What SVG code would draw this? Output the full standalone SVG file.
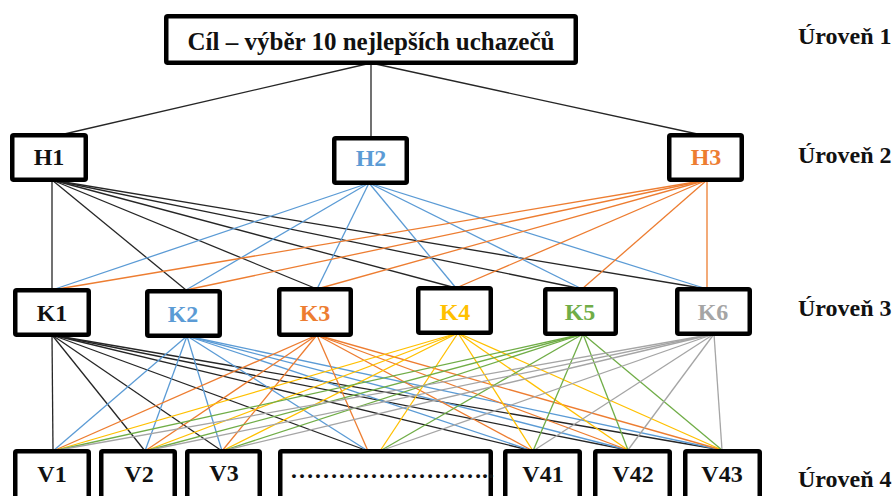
<svg xmlns="http://www.w3.org/2000/svg" width="896" height="496" viewBox="0 0 896 496">
  <style>
    .box { fill: #ffffff; stroke: #000000; stroke-width: 4.5; }
    text { font-family: 'Liberation Serif', 'Times New Roman', Times, serif; font-weight: 700; }
    .lbl { font-size: 24px; text-anchor: middle; }
    .ttl { font-size: 25px; text-anchor: middle; }
    .lvl { font-size: 24px; fill: #111111; }
    .c line { stroke-width: 1.3; fill: none; }
    .k { stroke: #262626; }
    .b { stroke: #5b9bd5; }
    .o { stroke: #ed7d31; }
    .y { stroke: #ffc000; }
    .g { stroke: #70ad47; }
    .s { stroke: #a5a5a5; }
  </style>
  <rect width="896" height="496" fill="#ffffff"/>

  <!-- connectors -->
  <g id="connectors" class="c">
    <!-- goal to criteria -->
    <g class="k">
      <line x1="371" y1="63" x2="60" y2="135"/>
      <line x1="371" y1="63" x2="371" y2="138"/>
      <line x1="371" y1="63" x2="702" y2="135"/>
    </g>
    <!-- H1 to K -->
    <g class="k">
      <line x1="52" y1="180" x2="52" y2="290"/>
      <line x1="52" y1="180" x2="186" y2="290"/>
      <line x1="52" y1="180" x2="317" y2="289"/>
      <line x1="52" y1="180" x2="456" y2="288"/>
      <line x1="52" y1="180" x2="582" y2="289"/>
      <line x1="52" y1="180" x2="707" y2="289"/>
    </g>
    <!-- H2 to K -->
    <g class="b">
      <line x1="369" y1="183" x2="52" y2="290"/>
      <line x1="369" y1="183" x2="186" y2="290"/>
      <line x1="369" y1="183" x2="317" y2="289"/>
      <line x1="369" y1="183" x2="456" y2="288"/>
      <line x1="369" y1="183" x2="582" y2="289"/>
      <line x1="369" y1="183" x2="707" y2="289"/>
    </g>
    <!-- H3 to K -->
    <g class="o">
      <line x1="707" y1="180" x2="52" y2="290"/>
      <line x1="707" y1="180" x2="186" y2="290"/>
      <line x1="707" y1="180" x2="317" y2="289"/>
      <line x1="707" y1="180" x2="456" y2="288"/>
      <line x1="707" y1="180" x2="582" y2="289"/>
      <line x1="707" y1="180" x2="707" y2="289"/>
    </g>
    <!-- K1 to V -->
    <g class="k">
      <line x1="52" y1="335" x2="53" y2="451"/>
      <line x1="52" y1="335" x2="145" y2="451"/>
      <line x1="52" y1="335" x2="222" y2="451"/>
      <line x1="52" y1="335" x2="368" y2="451"/>
      <line x1="52" y1="335" x2="533" y2="451"/>
      <line x1="52" y1="335" x2="628" y2="450"/>
      <line x1="52" y1="335" x2="722" y2="450"/>
    </g>
    <!-- K2 to V -->
    <g class="b">
      <line x1="187" y1="336" x2="53" y2="451"/>
      <line x1="187" y1="336" x2="145" y2="451"/>
      <line x1="187" y1="336" x2="222" y2="451"/>
      <line x1="187" y1="336" x2="368" y2="451"/>
      <line x1="187" y1="336" x2="533" y2="451"/>
      <line x1="187" y1="336" x2="628" y2="450"/>
      <line x1="187" y1="336" x2="722" y2="450"/>
    </g>
    <!-- K3 to V -->
    <g class="o">
      <line x1="317" y1="335" x2="53" y2="451"/>
      <line x1="317" y1="335" x2="145" y2="451"/>
      <line x1="317" y1="335" x2="222" y2="451"/>
      <line x1="317" y1="335" x2="368" y2="451"/>
      <line x1="317" y1="335" x2="533" y2="451"/>
      <line x1="317" y1="335" x2="628" y2="450"/>
      <line x1="317" y1="335" x2="722" y2="450"/>
    </g>
    <!-- K4 to V -->
    <g class="y">
      <line x1="458" y1="333" x2="53" y2="451"/>
      <line x1="458" y1="333" x2="145" y2="451"/>
      <line x1="458" y1="333" x2="222" y2="451"/>
      <line x1="458" y1="333" x2="380" y2="451"/>
      <line x1="458" y1="333" x2="533" y2="451"/>
      <line x1="458" y1="333" x2="628" y2="450"/>
      <line x1="458" y1="333" x2="722" y2="450"/>
    </g>
    <!-- K5 to V -->
    <g class="g">
      <line x1="583" y1="334" x2="53" y2="451"/>
      <line x1="583" y1="334" x2="145" y2="451"/>
      <line x1="583" y1="334" x2="222" y2="451"/>
      <line x1="583" y1="334" x2="380" y2="451"/>
      <line x1="583" y1="334" x2="533" y2="451"/>
      <line x1="583" y1="334" x2="628" y2="450"/>
      <line x1="583" y1="334" x2="722" y2="450"/>
    </g>
    <!-- K6 to V -->
    <g class="s">
      <line x1="714" y1="334" x2="53" y2="451"/>
      <line x1="714" y1="334" x2="145" y2="451"/>
      <line x1="714" y1="334" x2="222" y2="451"/>
      <line x1="714" y1="334" x2="380" y2="451"/>
      <line x1="714" y1="334" x2="533" y2="451"/>
      <line x1="714" y1="334" x2="628" y2="450"/>
      <line x1="714" y1="334" x2="722" y2="450"/>
    </g>
  </g>

  <!-- level 1 -->
  <g id="goal">
    <rect class="box" x="166.25" y="16.25" width="409.5" height="46.5" rx="1.5"/>
    <text class="ttl" x="371" y="50" fill="#111111">Cíl – výběr 10 nejlepších uchazečů</text>
  </g>

  <!-- level 2 -->
  <g id="H1">
    <rect class="box" x="12.25" y="135.25" width="73.5" height="44.5" rx="1.5"/>
    <text class="lbl" x="49" y="165" fill="#111111">H1</text>
  </g>
  <g id="H2">
    <rect class="box" x="334.25" y="138.25" width="72.5" height="44.5" rx="1.5"/>
    <text class="lbl" x="371" y="166" fill="#5b9bd5">H2</text>
  </g>
  <g id="H3">
    <rect class="box" x="669.25" y="135.25" width="72.5" height="44.5" rx="1.5"/>
    <text class="lbl" x="706" y="165" fill="#ed7d31">H3</text>
  </g>

  <!-- level 3 -->
  <g id="K1">
    <rect class="box" x="15.25" y="290.25" width="73.5" height="44.5" rx="1.5"/>
    <text class="lbl" x="52" y="321" fill="#111111">K1</text>
  </g>
  <g id="K2">
    <rect class="box" x="147.25" y="291.25" width="72.5" height="44.5" rx="1.5"/>
    <text class="lbl" x="183" y="322" fill="#5b9bd5">K2</text>
  </g>
  <g id="K3">
    <rect class="box" x="279.25" y="289.25" width="71.5" height="45.5" rx="1.5"/>
    <text class="lbl" x="315" y="321" fill="#ed7d31">K3</text>
  </g>
  <g id="K4">
    <rect class="box" x="418.25" y="288.25" width="72.5" height="44.5" rx="1.5"/>
    <text class="lbl" x="455" y="320" fill="#ffc000">K4</text>
  </g>
  <g id="K5">
    <rect class="box" x="545.25" y="289.25" width="70.5" height="44.5" rx="1.5"/>
    <text class="lbl" x="580" y="320" fill="#70ad47">K5</text>
  </g>
  <g id="K6">
    <rect class="box" x="677.25" y="289.25" width="72.5" height="44.5" rx="1.5"/>
    <text class="lbl" x="713" y="320" fill="#a5a5a5">K6</text>
  </g>

  <!-- level 4 -->
  <g id="V1">
    <rect class="box" x="15.25" y="451.25" width="73.5" height="60" rx="1.5"/>
    <text class="lbl" x="52" y="482" fill="#111111">V1</text>
  </g>
  <g id="V2">
    <rect class="box" x="101.25" y="451.25" width="73.5" height="60" rx="1.5"/>
    <text class="lbl" x="139" y="482" fill="#111111">V2</text>
  </g>
  <g id="V3">
    <rect class="box" x="187.25" y="451.25" width="72.5" height="60" rx="1.5"/>
    <text class="lbl" x="224" y="481" fill="#111111">V3</text>
  </g>
  <g id="Vdots">
    <rect class="box" x="280.25" y="451.25" width="210.5" height="60" rx="1.5"/>
    <text class="lbl" x="392" y="478" fill="#111111">……………………..</text>
  </g>
  <g id="V41">
    <rect class="box" x="505.25" y="451.25" width="74.5" height="60" rx="1.5"/>
    <text class="lbl" x="543" y="482" fill="#111111">V41</text>
  </g>
  <g id="V42">
    <rect class="box" x="595.25" y="451.25" width="74.5" height="60" rx="1.5"/>
    <text class="lbl" x="633" y="482" fill="#111111">V42</text>
  </g>
  <g id="V43">
    <rect class="box" x="685.25" y="451.25" width="74.5" height="60" rx="1.5"/>
    <text class="lbl" x="722" y="482" fill="#111111">V43</text>
  </g>

  <!-- level captions -->
  <g id="levels">
    <text class="lvl" x="798" y="44">Úroveň 1</text>
    <text class="lvl" x="798" y="163">Úroveň 2</text>
    <text class="lvl" x="798" y="316">Úroveň 3</text>
    <text class="lvl" x="798" y="487">Úroveň 4</text>
  </g>
</svg>
